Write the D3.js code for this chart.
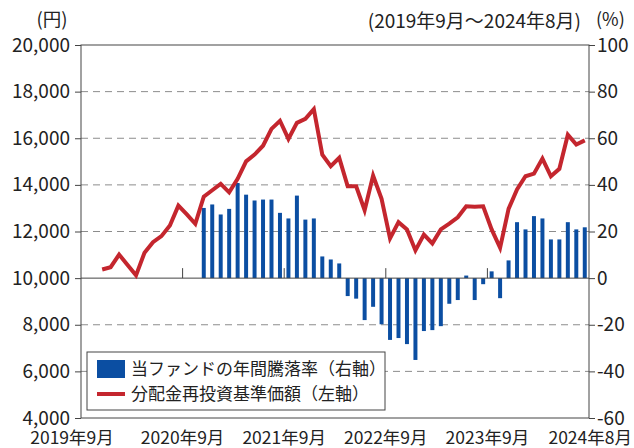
<!DOCTYPE html>
<html><head><meta charset="utf-8">
<script src="https://cdn.jsdelivr.net/npm/d3@7"></script>
<style>
html,body{margin:0;padding:0;background:#fff;}
svg{display:block;font-family:"Noto Sans CJK JP","Noto Sans",sans-serif;}
</style></head>
<body><svg id="c" width="634" height="448"></svg>
<script>
const months = [
"2019-09","2019-10","2019-11","2019-12","2020-01","2020-02","2020-03","2020-04","2020-05","2020-06","2020-07","2020-08",
"2020-09","2020-10","2020-11","2020-12","2021-01","2021-02","2021-03","2021-04","2021-05","2021-06","2021-07","2021-08",
"2021-09","2021-10","2021-11","2021-12","2022-01","2022-02","2022-03","2022-04","2022-05","2022-06","2022-07","2022-08",
"2022-09","2022-10","2022-11","2022-12","2023-01","2023-02","2023-03","2023-04","2023-05","2023-06","2023-07","2023-08",
"2023-09","2023-10","2023-11","2023-12","2024-01","2024-02","2024-03","2024-04","2024-05","2024-06","2024-07","2024-08"];
// 分配金再投資基準価額 (円, left axis)
const navValues = [null,null,10370,10470,11010,10560,10120,11090,11540,11800,12260,13110,
12730,12330,13490,13770,14040,13680,14260,15010,15300,15680,16400,16750,
15970,16660,16830,17250,15300,14800,15160,13940,13940,12910,14400,13400,
11700,12400,12090,11190,11870,11490,12090,12340,12610,13080,13060,13080,
12090,11300,12970,13800,14370,14480,15130,14370,14690,16150,15730,15910];
// 当ファンドの年間騰落率 (%, right axis)
const returnValues = [null,null,null,null,null,null,null,null,null,null,null,null,
null,null,30.1,31.6,27.3,29.7,40.8,35.8,33.3,33.7,33.7,28.0,
25.6,35.4,25.1,25.6,9.3,8.0,6.3,-7.7,-8.8,-18.0,-12.3,-19.8,
-26.5,-25.7,-28.3,-35.1,-22.7,-22.3,-20.6,-11.0,-9.4,1.1,-9.4,-2.6,
2.9,-8.6,7.6,24.0,20.9,26.6,25.6,16.6,16.6,24.0,20.9,21.8];
const leftTicks = [4000,6000,8000,10000,12000,14000,16000,18000,20000];
const rightTicks = [-60,-40,-20,0,20,40,60,80,100];
const yearTicks = ["2020-09","2021-09","2022-09","2023-09"];
const xLabels = [
 {m:"2019-09", t:"2019年9月"},{m:"2020-09", t:"2020年9月"},{m:"2021-09", t:"2021年9月"},
 {m:"2022-09", t:"2022年9月"},{m:"2023-09", t:"2023年9月"},{m:"2024-08", t:"2024年8月"}];
const legendLabels = ["当ファンドの年間騰落率（右軸）","分配金再投資基準価額（左軸）"];
const titleText = "(2019年9月～2024年8月)";

const BLUE = "#0b4ea2", RED = "#c4262e", AX = "#444";
const L = 81, R = 589, T = 45, B = 418;
const svg = d3.select("#c");

const x = d3.scaleBand().domain(months).range([L, R]).paddingInner(0.53).paddingOuter(0.265);
const cx = m => x(m) + x.bandwidth()/2;
const edge = m => x(m) - x.step()*x.paddingInner()/2;
const yL = d3.scaleLinear().domain([4000, 20000]).range([B, T]);
const yR = d3.scaleLinear().domain([-60, 100]).range([B, T]);

// gridlines
svg.append("g").selectAll("line").data(leftTicks.filter(v => v !== 4000 && v !== 20000 && v !== 10000))
 .join("line").attr("x1", L).attr("x2", R).attr("y1", d => yL(d)).attr("y2", d => yL(d))
 .attr("stroke", "#8c8c8c").attr("stroke-width", 1).attr("stroke-dasharray", "7,5");

// bars
svg.append("g").selectAll("rect").data(months.map((m,i)=>({m, v:returnValues[i]})).filter(d => d.v !== null))
 .join("rect").attr("x", d => x(d.m)).attr("width", x.bandwidth())
 .attr("y", d => Math.min(yR(d.v), yR(0))).attr("height", d => Math.abs(yR(d.v) - yR(0)))
 .attr("fill", BLUE);

// zero line
svg.append("line").attr("x1", L).attr("x2", R).attr("y1", yR(0)).attr("y2", yR(0))
 .attr("stroke", AX).attr("stroke-width", 1);
// year ticks
svg.append("g").selectAll("line").data(yearTicks).join("line")
 .attr("x1", d => edge(d)).attr("x2", d => edge(d))
 .attr("y1", yR(0)).attr("y2", yR(0) - 10).attr("stroke", AX).attr("stroke-width", 1);

// line
const line = d3.line().defined(d => d.v !== null).x(d => cx(d.m)).y(d => yL(d.v)).curve(d3.curveLinear);
svg.append("path").datum(months.map((m,i)=>({m, v:navValues[i]})))
 .attr("d", line).attr("fill", "none").attr("stroke", RED).attr("stroke-width", 4)
 .attr("stroke-linejoin", "miter").attr("stroke-linecap", "butt");

// frame
svg.append("rect").attr("x", L).attr("y", T).attr("width", R - L).attr("height", B - T)
 .attr("fill", "none").attr("stroke", AX).attr("stroke-width", 1);

// axes
const axL = d3.axisLeft(yL).tickValues(leftTicks).tickSize(6).tickPadding(5).tickFormat(d3.format(","));
const gL = svg.append("g").attr("transform", `translate(${L},0)`).call(axL);
const axR = d3.axisRight(yR).tickValues(rightTicks).tickSize(6).tickPadding(2).tickFormat(d => d);
const gR = svg.append("g").attr("transform", `translate(${R},0)`).call(axR);
[gL, gR].forEach(g => {
  g.select(".domain").remove();
  g.selectAll(".tick line").attr("stroke", AX);
  g.selectAll(".tick text").attr("fill", "#222").style("font-size", "19px")
   .style("font-family", "'Noto Sans CJK JP',sans-serif");
});

// x labels
svg.append("g").selectAll("text").data(xLabels).join("text")
 .attr("x", (d,i) => i === 0 ? L - 9 : (i === xLabels.length-1 ? 632 : edge(d.m)))
 .attr("y", 444).attr("text-anchor", (d,i) => i === xLabels.length-1 ? "end" : "middle")
 .attr("fill", "#222").style("font-size", "17.5px")
 .text(d => d.t);

// titles
svg.append("text").attr("x", 52).attr("y", 26).attr("text-anchor", "middle").attr("fill", "#222")
 .style("font-size", "18.5px").text("(円)");
svg.append("text").attr("x", 581).attr("y", 28).attr("text-anchor", "end").attr("fill", "#222")
 .style("font-size", "19px").text(titleText);
svg.append("text").attr("x", 596).attr("y", 26).attr("text-anchor", "start").attr("fill", "#222")
 .style("font-size", "18px").text("(%)");

// legend
const lg = svg.append("g");
lg.append("rect").attr("x", 87).attr("y", 352).attr("width", 298).attr("height", 58)
 .attr("fill", "#fff").attr("stroke", AX).attr("stroke-width", 1);
lg.append("rect").attr("x", 97).attr("y", 360).attr("width", 28).attr("height", 18).attr("fill", BLUE);
lg.append("line").attr("x1", 97).attr("x2", 125).attr("y1", 394).attr("y2", 394)
 .attr("stroke", RED).attr("stroke-width", 4);
lg.selectAll("text.lt").data(legendLabels).join("text").attr("class","lt")
 .attr("x", 131).attr("y", (d,i) => 375 + i*25).attr("fill", "#222").style("font-size", "17px")
 .text(d => d);
</script></body></html>
